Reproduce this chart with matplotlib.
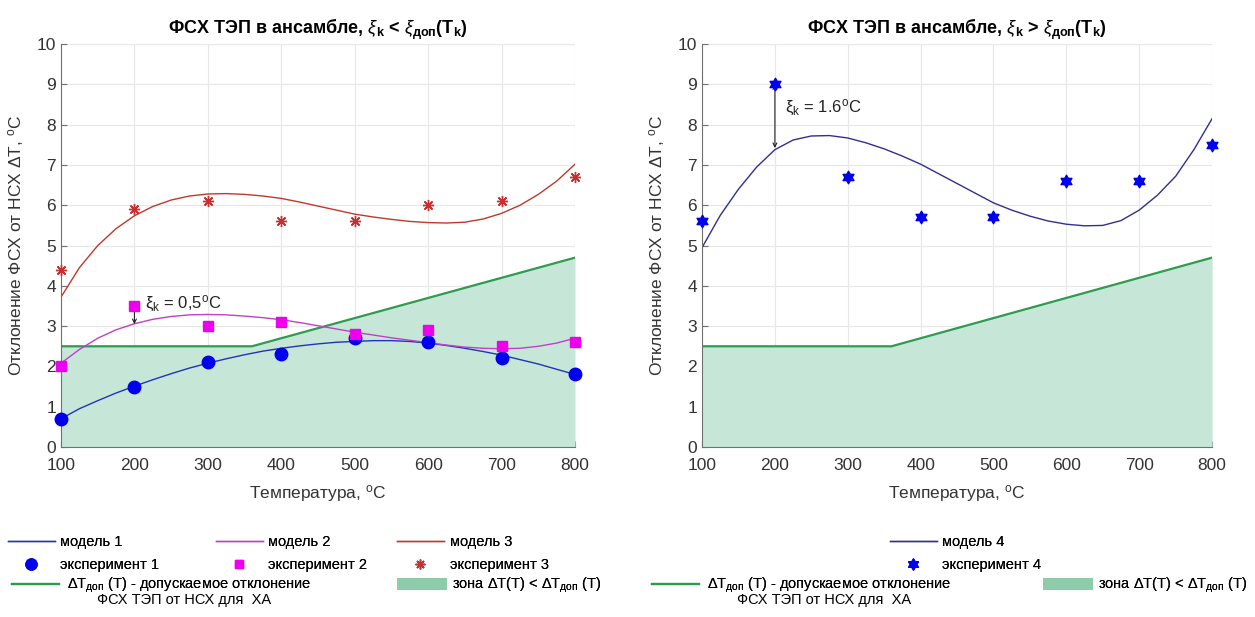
import numpy as np
import matplotlib
matplotlib.use("Agg")
import matplotlib.pyplot as plt
from matplotlib.lines import Line2D
from matplotlib.patches import Patch
from matplotlib.path import Path

plt.rcParams['font.family'] = ['Liberation Sans', 'DejaVu Sans']
plt.rcParams['mathtext.fontset'] = 'custom'
plt.rcParams['mathtext.rm'] = 'Liberation Sans'
plt.rcParams['mathtext.it'] = 'Liberation Sans:italic'
plt.rcParams['mathtext.bf'] = 'Liberation Sans:bold'

# temperatures of the experiment points
temp = [100, 200, 300, 400, 500, 600, 700, 800]
exp1 = [0.7, 1.5, 2.1, 2.3, 2.7, 2.6, 2.2, 1.8]
exp2 = [2.0, 3.5, 3.0, 3.1, 2.8, 2.9, 2.5, 2.6]
exp3 = [4.4, 5.9, 6.1, 5.6, 5.6, 6.0, 6.1, 6.7]
exp4 = [5.6, 9.0, 6.7, 5.7, 5.7, 6.6, 6.6, 7.5]

# model curves sampled every 25 degrees
temp_m = list(range(100, 801, 25))
model1 = [0.70, 0.95, 1.15, 1.34, 1.51, 1.67, 1.82, 1.96, 2.08, 2.19, 2.29, 2.38, 2.45, 2.51,
          2.56, 2.60, 2.62, 2.64, 2.64, 2.62, 2.58, 2.52, 2.45, 2.37, 2.28, 2.17, 2.06, 1.93, 1.80]
model2 = [2.08, 2.42, 2.70, 2.91, 3.06, 3.17, 3.24, 3.28, 3.29, 3.28, 3.25, 3.21, 3.16, 3.09,
          3.01, 2.93, 2.85, 2.78, 2.71, 2.65, 2.59, 2.53, 2.48, 2.45, 2.44, 2.45, 2.50, 2.58, 2.70]
model3 = [3.72, 4.45, 5.00, 5.42, 5.74, 5.97, 6.13, 6.23, 6.28, 6.29, 6.27, 6.23, 6.17, 6.08,
          5.98, 5.88, 5.78, 5.71, 5.65, 5.60, 5.57, 5.56, 5.58, 5.66, 5.80, 6.00, 6.27, 6.60, 7.02]
model4 = [4.95, 5.75, 6.40, 6.95, 7.38, 7.62, 7.72, 7.73, 7.67, 7.55, 7.40, 7.22, 7.02, 6.78,
          6.54, 6.30, 6.06, 5.88, 5.73, 5.61, 5.53, 5.49, 5.50, 5.62, 5.88, 6.25, 6.72, 7.38, 8.15]

# permitted deviation for type K thermocouples
temp_tol = [100, 360, 800]
tol = [2.5, 2.5, 4.7]

xi_left = (200, 3.5, 3.05, 'ξ$_\\mathrm{k}$ = 0,5$^\\mathrm{o}$C')
xi_right = (200, 9.0, 7.42, 'ξ$_\\mathrm{k}$ = 1.6$^\\mathrm{o}$C')

GREEN = '#2e9b4e'
FILL = '#c6e7d7'
W, H = 1255, 617


def hexagram():
    ang_out = np.deg2rad(90 + 60 * np.arange(6))
    ang_in = ang_out + np.deg2rad(30)
    r_in = 1 / np.sqrt(3)
    verts = []
    for a, b in zip(ang_out, ang_in):
        verts.append((np.cos(a), np.sin(a)))
        verts.append((r_in * np.cos(b), r_in * np.sin(b)))
    verts.append(verts[0])
    codes = [Path.MOVETO] + [Path.LINETO] * 11 + [Path.CLOSEPOLY]
    return Path(verts, codes)


def style_axes(ax):
    ax.set_xlim(100, 800)
    ax.set_ylim(0, 10)
    ax.set_xticks(range(100, 801, 100))
    ax.set_yticks(range(0, 11))
    ax.grid(True, color='#e8e8e8', linewidth=0.9)
    ax.set_axisbelow(True)
    for s in ['top', 'right']:
        ax.spines[s].set_visible(False)
    for s in ['left', 'bottom']:
        ax.spines[s].set_color('#707070')
    ax.tick_params(direction='in', length=4, color='#707070', labelcolor='#333333', labelsize=12.5)
    ax.tick_params(axis='x', pad=8)
    ax.set_xlabel('Температура, $^\\mathrm{o}$C', fontsize=12.5, color='#333333', labelpad=7)
    ax.set_ylabel('Отклонение ФСХ от НСХ ΔT, $^\\mathrm{o}$C', fontsize=12.5, color='#333333',
                  labelpad=8)
    ax.fill_between(temp_tol, 0, tol, color=FILL, linewidth=0, zorder=1)
    ax.plot(temp_tol, tol, color=GREEN, linewidth=1.6, zorder=2)


def xi_arrow(ax, xi):
    x, top, bot, label = xi
    ax.annotate('', xy=(x, top), xytext=(x, bot),
                arrowprops=dict(arrowstyle='<->', color='#222222', lw=0.8,
                                shrinkA=0, shrinkB=0, mutation_scale=7))
    ax.text(x + 14, (top + bot) / 2 + 0.2 if top - bot > 1 else top + 0.05, label,
            fontsize=12, color='#222222', va='center', ha='left')


def legend_col(handles, labels, x_px, y_px, **kw):
    opts = dict(frameon=False, fontsize=10.5, handlelength=3.2, handletextpad=0.4,
                labelspacing=0.65, borderpad=0, borderaxespad=0, numpoints=1,
                loc='upper left', bbox_to_anchor=(x_px / W, 1 - y_px / H))
    opts.update(kw)
    fig.add_artist(fig.legend(handles, labels, **opts))


fig = plt.figure(figsize=(W / 100, H / 100), dpi=100)
ax1 = fig.add_axes([0.0486, 0.2755, 0.4096, 0.653])
ax2 = fig.add_axes([0.5594, 0.2755, 0.4064, 0.653])

style_axes(ax1)
ax1.plot(temp_m, model1, color='#2233bb', linewidth=1)
ax1.plot(temp_m, model2, color='#c040c8', linewidth=1)
ax1.plot(temp_m, model3, color='#c0392b', linewidth=1)
ax1.plot(temp, exp1, 'o', color='#0000ee', markersize=9, clip_on=False, zorder=5)
ax1.plot(temp, exp2, 's', color='#ee00ee', markersize=7, clip_on=False, zorder=5)
ax1.plot(temp, exp3, marker=(8, 2, 0), linestyle='none', color='#c83030',
         markersize=8, markeredgewidth=1, clip_on=False, zorder=5)
xi_arrow(ax1, xi_left)
ax1.set_title('ФСХ ТЭП в ансамбле, $\\mathit{ξ}_\\mathbf{k}$ < $\\mathit{ξ}_\\mathbf{доп}$(T$_\\mathbf{k}$)',
              fontsize=13, fontweight='bold', pad=7)

style_axes(ax2)
star = hexagram()
ax2.plot(temp_m, model4, color='#303090', linewidth=1)
ax2.plot(temp, exp4, marker=star, linestyle='none', color='#0000ee',
         markersize=9, clip_on=False, zorder=5)
xi_arrow(ax2, xi_right)
ax2.set_title('ФСХ ТЭП в ансамбле, $\\mathit{ξ}_\\mathbf{k}$ > $\\mathit{ξ}_\\mathbf{доп}$(T$_\\mathbf{k}$)',
              fontsize=13, fontweight='bold', pad=7)

# model / experiment legends
left_cols = [
    ('#2233bb', dict(marker='o', color='#0000ee', markersize=8), '1', 8),
    ('#c040c8', dict(marker='s', color='#ee00ee', markersize=6), '2', 216),
    ('#c0392b', dict(marker=(8, 2, 0), color='#c83030', markersize=7), '3', 397),
]
for line_color, mk, n, x0 in left_cols:
    h = [Line2D([], [], color=line_color, lw=1), Line2D([], [], ls='none', **mk)]
    legend_col(h, ['модель ' + n, 'эксперимент ' + n], x0, 535)

h = [Line2D([], [], color='#303090', lw=1),
     Line2D([], [], marker=star, ls='none', color='#0000ee', markersize=8)]
legend_col(h, ['модель 4', 'эксперимент 4'], 890, 535)

# tolerance legends
tol_label = 'ΔT$_\\mathrm{доп}$ (T) - допускаемое отклонение'
zone_label = 'зона ΔT(T) < ΔT$_\\mathrm{доп}$ (T)'
for x0, xz in ((12, 397), (652, 1043)):
    legend_col([Line2D([], [], color=GREEN, lw=1.6)], [tol_label], x0, 576, handletextpad=0.6)
    legend_col([Patch(facecolor='#8ecba8', edgecolor='none')], [zone_label], xz, 576,
               handleheight=0.9, handlelength=3.4)
    fig.text((x0 + 85) / W, 1 - 600 / H, 'ФСХ ТЭП от НСХ для  ХА', fontsize=10.5,
             va='center', ha='left')

fig.savefig('out.png', dpi=100)
